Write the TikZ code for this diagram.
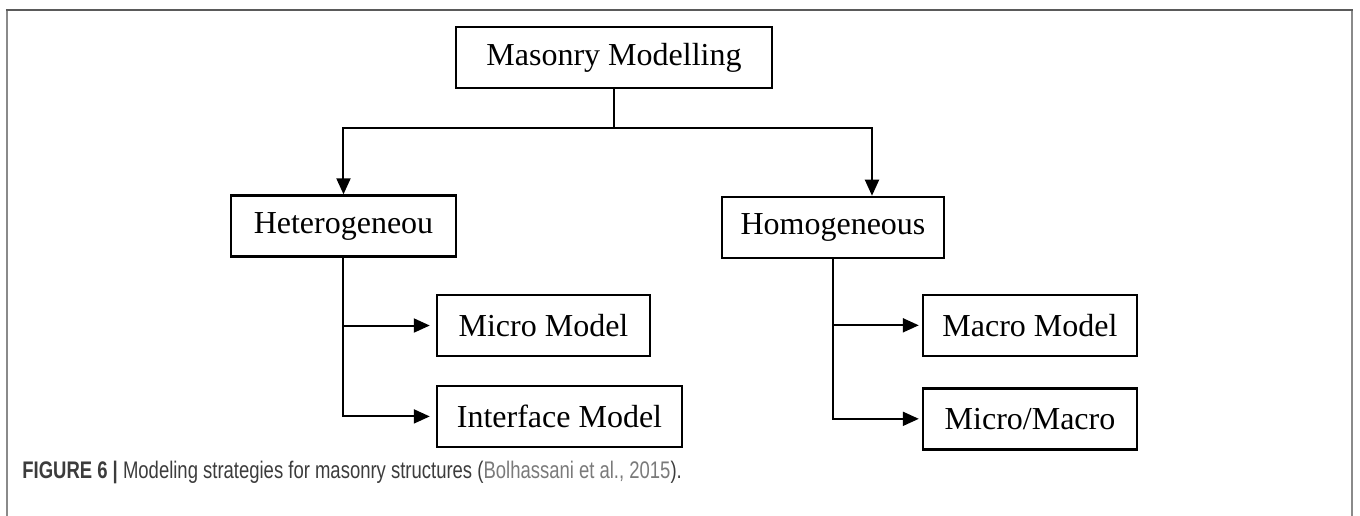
\documentclass[tikz,border=0pt]{standalone}
\usepackage{fontspec}
\setmainfont{Liberation Serif}
\newfontfamily\capfont[FakeStretch=0.77]{Liberation Sans}
\usepackage{tikz}
\usetikzlibrary{arrows.meta}
\definecolor{framedark}{HTML}{5A5A5A}
\definecolor{framelight}{HTML}{8A8A8A}
\definecolor{captext}{HTML}{3C3C3C}
\definecolor{citegray}{HTML}{7A7A7A}
\tikzstyle{block} = [rectangle, minimum height=30.5pt, inner sep=2pt, text centered, draw=black, line width=1.2pt, font=\fontsize{16pt}{19pt}\selectfont]
\tikzstyle{line} = [line width=1pt]
\tikzstyle{arrow} = [line, -{Triangle[length=8pt,width=7pt]}]

\begin{document}
\begin{tikzpicture}
		\useasboundingbox (-307pt,28.75pt) rectangle (373pt,-228.75pt);
		% outer frame
		\draw [framelight, line width=1pt] (-303.5pt,-232pt) -- (-303.5pt,23.75pt);
		\draw [framelight, line width=1pt] (369pt,-232pt) -- (369pt,23.75pt);
		\draw [framedark, line width=1pt] (-304pt,23.75pt) -- (369.5pt,23.75pt);

		\node (master) [block, minimum width=158pt] {Masonry Modelling};
		\node (hetero) [block, minimum width=112.5pt, below of=master, xshift=-135.25pt, yshift=-55.8pt] {Heterogeneou};
		\node (homog) [block, minimum width=111pt, below of=master, xshift=109.5pt, yshift=-56.5pt] {Homogeneous};
		\node (micro) [block, minimum width=106.5pt, below of=hetero, xshift=100pt, yshift=-21.3pt] {Micro Model};
		\node (interface) [block, minimum width=122.5pt, below of=micro, xshift=8pt, yshift=-17pt] {Interface Model};
		\node (macro) [block, minimum width=107pt, below of=homog, xshift=98.5pt, yshift=-20.5pt] {Macro Model};
		\node (micmac) [block, minimum width=107pt, below of=macro, yshift=-18.3pt] {Micro/Macro};

		\node (caption) [anchor=base west, inner sep=0pt, font=\capfont\fontsize{12pt}{14pt}\selectfont] at (-296pt,-210.25pt)
			{\textcolor{captext}{\textbf{FIGURE 6 |} Modeling strategies for masonry structures (}\textcolor{citegray}{Bolhassani et al., 2015}\textcolor{captext}{).}};

		\coordinate (fork) at ([yshift=-19.5pt]master.south);
		\draw [line](master) -- (fork);
		\draw [arrow](fork) -| (hetero);
		\draw [arrow](fork) -| ([xshift=19.5pt]homog.north);
		\draw [arrow, shorten >=3pt](hetero) |- (micro);
		\draw [arrow, shorten >=3pt](hetero) |- (interface);
		\draw [arrow, shorten >=1.5pt](homog) |- (macro);
		\draw [arrow, shorten >=1.5pt](homog) |- (micmac);
	\end{tikzpicture}
\end{document}
